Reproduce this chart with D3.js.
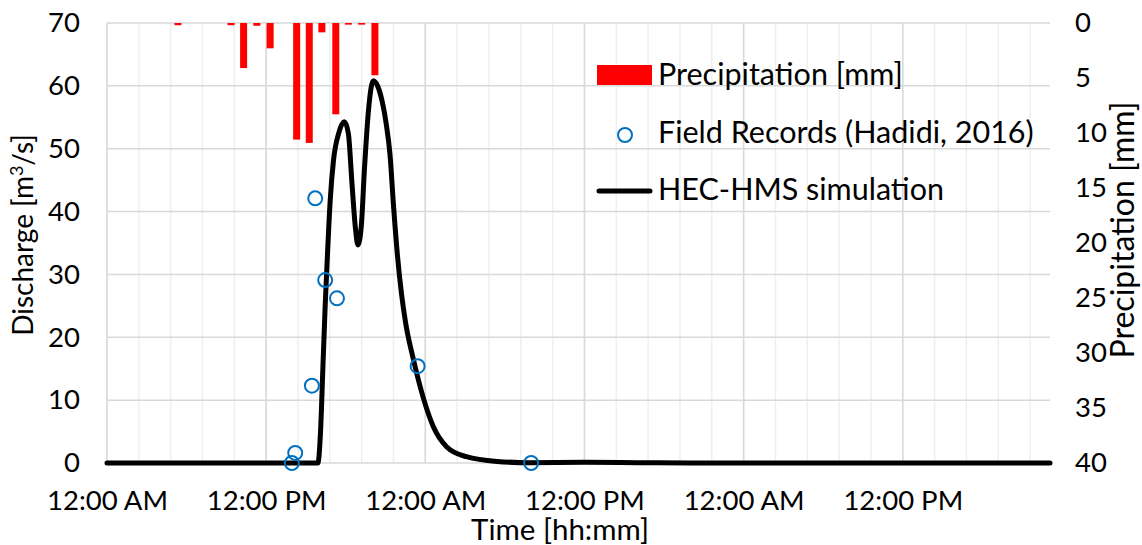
<!DOCTYPE html>
<head>
	<meta charset="utf-8">
	<title>Hydrograph</title>
	<script src="https://d3js.org/d3.v7.min.js"></script>
	<style>
		body { margin: 0; background: #fff; }
		text { font-family: Lato, "Open Sans", sans-serif; fill: #000; }
	</style>
</head>

<body>
	<div id="chart"></div>
	<script>
		// time is in hours from the first 12:00 AM on the axis
		var simHours = [0, 15.9, 16.1, 16.28, 16.45, 16.58, 16.83, 17.08, 17.46, 17.9, 18.2, 18.47, 18.72, 18.92,
			19.17, 19.42, 19.72, 20.07, 20.4, 20.75, 21.05, 21.34, 21.6, 21.9, 22.2, 22.5, 23.1, 23.9, 24.6, 25.6, 27.1,
			29.4, 31.9, 36, 40, 44, 50, 60, 71.1];
		var simFlow = [0, 0, 5, 15.3, 25, 31.2, 41.8, 48.2, 52.4, 54.3, 52.4, 44.5, 37.6, 34.7,
			37.6, 47.1, 56.2, 60.8, 60, 57.5, 54, 49, 41, 33, 27, 22.5, 16.5, 10, 5.8, 2.6, 1.0,
			0.25, 0.05, 0.1, 0.05, 0, 0, 0, 0];

		var obsHours = [13.94, 14.19, 15.45, 15.7, 16.45, 17.34, 23.42, 31.98];
		var obsFlow = [0, 1.6, 12.3, 42.1, 29.1, 26.2, 15.4, 0];

		var rainHours = [5.35, 9.35, 10.3, 11.3, 12.3, 14.3, 15.25, 16.2, 17.25, 18.2, 19.2, 20.2];
		var rainDepth = [0.2, 0.2, 4.1, 0.25, 2.3, 10.6, 10.9, 0.85, 8.3, 0.15, 0.15, 4.75];

		var timeTicks = [0, 12, 24, 36, 48, 60];
		var timeLabels = ["12:00 AM", "12:00 PM", "12:00 AM", "12:00 PM", "12:00 AM", "12:00 PM"];
		var flowTicks = [0, 10, 20, 30, 40, 50, 60, 70];
		var rainTicks = [0, 5, 10, 15, 20, 25, 30, 35, 40];

		var margin = { top: 23, right: 92, bottom: 82, left: 107 },
			W = 1142,
			H = 545,
			width = W - margin.left - margin.right,
			height = H - margin.top - margin.bottom;

		var x = d3.scaleLinear().domain([0, 71.1]).range([0, width]),
			y = d3.scaleLinear().domain([0, 70]).range([height, 0]),
			yRain = d3.scaleLinear().domain([0, 40]).range([0, height]);

		var svg = d3.select("#chart").append("svg")
			.attr("width", W)
			.attr("height", H);
		var g = svg.append("g")
			.attr("transform", "translate(" + margin.left + "," + margin.top + ")");

		// minor vertical grid every 2.4 h, major every 12 h
		g.selectAll(".vminor")
			.data(d3.range(0, 71.1, 2.4))
			.enter().append("line")
			.attr("x1", function (d) { return x(d); })
			.attr("x2", function (d) { return x(d); })
			.attr("y1", 0)
			.attr("y2", height)
			.attr("stroke", "#efefef")
			.attr("stroke-width", 1.5);

		g.selectAll(".vmajor")
			.data(timeTicks)
			.enter().append("line")
			.attr("x1", function (d) { return x(d); })
			.attr("x2", function (d) { return x(d); })
			.attr("y1", 0)
			.attr("y2", height)
			.attr("stroke", "#d9d9d9")
			.attr("stroke-width", 1.5);

		g.selectAll(".hgrid")
			.data(flowTicks)
			.enter().append("line")
			.attr("x1", 0)
			.attr("x2", width)
			.attr("y1", function (d) { return y(d); })
			.attr("y2", function (d) { return y(d); })
			.attr("stroke", "#d9d9d9")
			.attr("stroke-width", 1.5);

		// axes (labels only)
		var axLeft = g.append("g")
			.call(d3.axisLeft(y).tickValues(flowTicks).tickSize(0).tickPadding(27));
		var axRight = g.append("g")
			.attr("transform", "translate(" + width + ",0)")
			.call(d3.axisRight(yRain).tickValues(rainTicks).tickSize(0).tickPadding(25));
		var axBottom = g.append("g")
			.attr("transform", "translate(0," + height + ")")
			.call(d3.axisBottom(x).tickValues(timeTicks).tickSize(0).tickPadding(27)
				.tickFormat(function (d, i) { return timeLabels[i]; }));

		[axLeft, axRight, axBottom].forEach(function (a) {
			a.select(".domain").remove();
			a.attr("font-family", null).attr("font-size", null);
			a.selectAll("text").style("font-size", "27.5px");
		});

		// precipitation bars hang from the top
		g.selectAll(".rain")
			.data(rainHours)
			.enter().append("rect")
			.attr("x", function (d) { return x(d) - 3.5; })
			.attr("y", 0)
			.attr("width", 7)
			.attr("height", function (d, i) { return yRain(rainDepth[i]); })
			.attr("fill", "#ff0000");

		// simulation
		var line = d3.line()
			.x(function (d) { return x(d); })
			.y(function (d, i) { return y(simFlow[i]); })
			.curve(d3.curveMonotoneX);

		g.append("path")
			.datum(simHours)
			.attr("d", line)
			.attr("fill", "none")
			.attr("stroke", "#000")
			.attr("stroke-width", 5)
			.attr("stroke-linejoin", "round")
			.attr("stroke-linecap", "round");

		// field records
		g.selectAll(".obs")
			.data(obsHours)
			.enter().append("circle")
			.attr("cx", function (d) { return x(d); })
			.attr("cy", function (d, i) { return y(obsFlow[i]); })
			.attr("r", 7)
			.attr("fill", "none")
			.attr("stroke", "#0070c0")
			.attr("stroke-width", 2);

		// titles
		svg.append("text")
			.attr("x", 560)
			.attr("y", 540)
			.attr("text-anchor", "middle")
			.style("font-size", "29.5px")
			.text("Time [hh:mm]");

		var yt = svg.append("text")
			.attr("transform", "translate(33,235) rotate(-90)")
			.attr("text-anchor", "middle")
			.style("font-size", "28px");
		yt.append("tspan").text("Discharge [m");
		yt.append("tspan").attr("dy", -10).style("font-size", "18px").text("3");
		yt.append("tspan").attr("dy", 10).text("/s]");

		svg.append("text")
			.attr("transform", "translate(1134,230) rotate(-90)")
			.attr("text-anchor", "middle")
			.style("font-size", "32px")
			.text("Precipitation [mm]");

		// legend
		var leg = svg.append("g");
		leg.append("rect")
			.attr("x", 597).attr("y", 65)
			.attr("width", 55).attr("height", 20)
			.attr("fill", "#ff0000");
		leg.append("circle")
			.attr("cx", 625).attr("cy", 135).attr("r", 7)
			.attr("fill", "none").attr("stroke", "#0070c0").attr("stroke-width", 2);
		leg.append("line")
			.attr("x1", 599).attr("x2", 650)
			.attr("y1", 191).attr("y2", 191)
			.attr("stroke", "#000").attr("stroke-width", 5).attr("stroke-linecap", "round");

		var legText = ["Precipitation [mm]", "Field Records (Hadidi, 2016)", "HEC-HMS simulation"];
		var legY = [85, 143, 200];
		leg.selectAll(".lt")
			.data(legText)
			.enter().append("text")
			.attr("x", 658)
			.attr("y", function (d, i) { return legY[i]; })
			.style("font-size", "30.5px")
			.text(function (d) { return d; });
	</script>
</body>
